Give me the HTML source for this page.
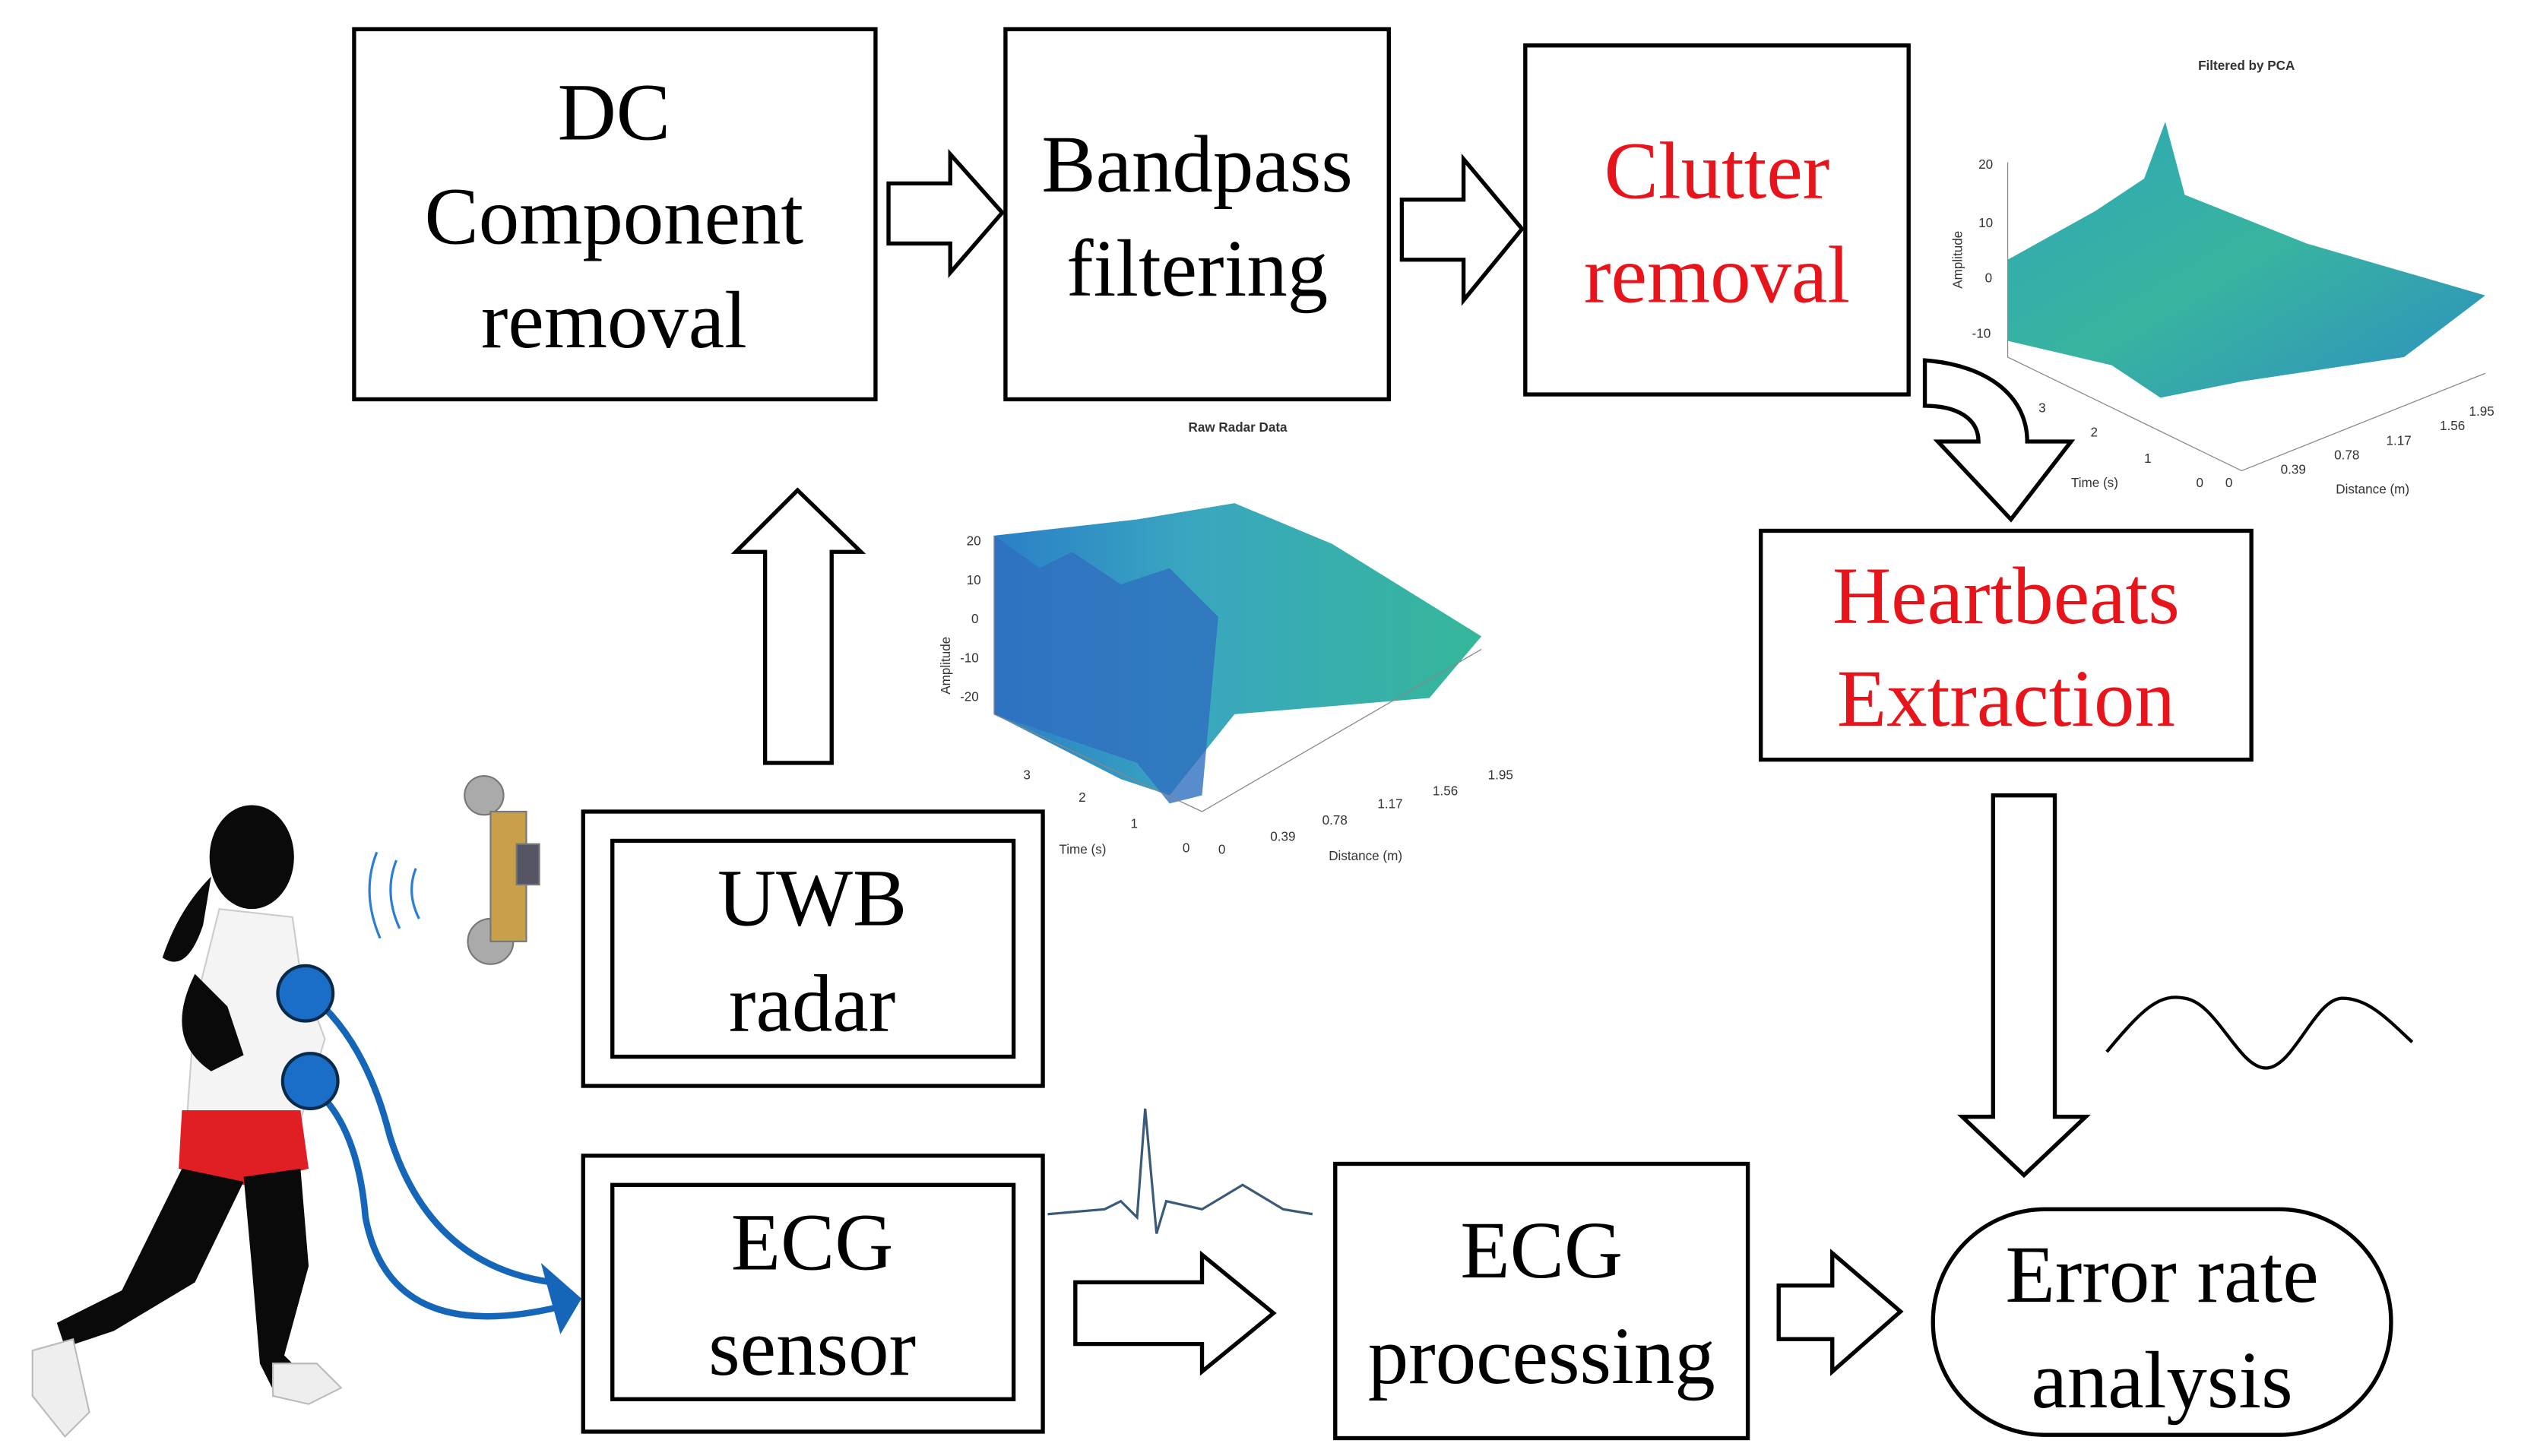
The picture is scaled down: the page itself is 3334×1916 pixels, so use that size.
<!DOCTYPE html>
<html><head><meta charset="utf-8"><style>
html,body{margin:0;padding:0;background:#fff;}
svg{display:block;}
.t{font-family:"Liberation Serif",serif;font-size:50px;text-anchor:middle;}
.r{fill:#e8141b;}
.s{font-family:"Liberation Sans",sans-serif;font-size:8px;fill:#333;}
</style></head><body>
<svg width="3334" height="1916" viewBox="0 0 1560 897" preserveAspectRatio="none" xmlns="http://www.w3.org/2000/svg">
<defs>
<linearGradient id="g1" x1="0" y1="0" x2="1" y2="0">
<stop offset="0" stop-color="#2a7fc7"/><stop offset="0.4" stop-color="#3aa6c0"/><stop offset="1" stop-color="#35b79a"/></linearGradient>
<linearGradient id="g2" x1="0" y1="0" x2="1" y2="1">
<stop offset="0" stop-color="#2fa7b5"/><stop offset="0.5" stop-color="#38b4a0"/><stop offset="1" stop-color="#2d8fc0"/></linearGradient>
</defs>
<g fill="none" stroke="#000" stroke-width="2.5">
<rect x="218" y="18" width="321" height="228"/>
<rect x="619" y="18" width="236" height="228"/>
<rect x="939" y="28" width="236" height="215"/>
<rect x="1084" y="327" width="302" height="141"/>
<rect x="359" y="500" width="283" height="169"/><rect x="377" y="518" width="247" height="133"/>
<rect x="359" y="712" width="283" height="170"/><rect x="377" y="730" width="247" height="132"/>
<rect x="822" y="717" width="254" height="169"/>
<rect x="1190" y="745" width="282" height="139" rx="69"/>
<path d="M547 113H585V95L617 131L585 168V150H547Z"/>
<path d="M863 123H901V98L937 141L901 185V160H863Z"/>
<path d="M662 790H740V773L784 809L740 845V828H662Z"/>
<path d="M1095 792H1128V772L1170 808L1128 845V825H1095Z"/>
<path d="M471 470V340H453L491 302L530 340H512V470Z"/>
<path d="M1227 490H1265V688H1284L1246 724L1208 688H1227Z"/>
<path d="M1185 222C1225 225 1248 245 1248 272H1275L1238 320L1193 272H1218C1218 258 1205 250 1185 250Z"/>
<path d="M1297 648C1320 620 1330 612 1345 615C1365 618 1378 658 1395 658C1412 658 1425 615 1442 615C1458 615 1470 628 1485 642" stroke-width="2"/>
<path d="M645 748L680 745L690 740L700 750L705 683L712 760L718 740L740 745L765 730L790 745L808 748" stroke="#3a5a78" stroke-width="1.5"/>
</g>
<text class="t" x="378" y="86">DC</text>
<text class="t" x="378" y="150">Component</text>
<text class="t" x="378" y="214">removal</text>
<text class="t" x="737" y="118">Bandpass</text>
<text class="t" x="737" y="182">filtering</text>
<text class="t r" x="1057" y="122">Clutter</text>
<text class="t r" x="1057" y="186">removal</text>
<text class="t r" x="1235" y="384">Heartbeats</text>
<text class="t r" x="1235" y="447">Extraction</text>
<text class="t" x="500" y="570">UWB</text>
<text class="t" x="500" y="635">radar</text>
<text class="t" x="500" y="782">ECG</text>
<text class="t" x="500" y="847">sensor</text>
<text class="t" x="949" y="787">ECG</text>
<text class="t" x="949" y="852">processing</text>
<text class="t" x="1331" y="802">Error rate</text>
<text class="t" x="1331" y="867">analysis</text>
<text class="s" x="762" y="266" font-weight="bold" text-anchor="middle">Raw Radar Data</text>
<polygon points="612,330 700,320 760,310 820,335 912,392 880,430 760,440 720,490 690,480 612,440" fill="url(#g1)"/>
<polygon points="612,330 640,350 660,340 690,360 720,350 750,380 740,490 720,495 700,470 612,440" fill="#2f6fbf" opacity="0.8"/>
<g stroke="#888" stroke-width="0.6" fill="none"><path d="M612 330V440L740 500L912 400"/></g>
<g class="s"><text x="595" y="336">20</text><text x="595" y="360">10</text><text x="598" y="384">0</text><text x="591" y="408">-10</text><text x="591" y="432">-20</text>
<text x="630" y="480">3</text><text x="664" y="494">2</text><text x="696" y="510">1</text><text x="728" y="525">0</text><text x="750" y="526">0</text><text x="782" y="518">0.39</text><text x="814" y="508">0.78</text><text x="848" y="498">1.17</text><text x="882" y="490">1.56</text><text x="916" y="480">1.95</text>
<text x="652" y="526">Time (s)</text><text x="818" y="530">Distance (m)</text></g>
<text class="s" x="585" y="410" transform="rotate(-90 585 410)" text-anchor="middle">Amplitude</text>
<text class="s" x="1383" y="43" font-weight="bold" text-anchor="middle">Filtered by PCA</text>
<polygon points="1236,160 1290,130 1320,110 1333,75 1345,120 1420,150 1530,182 1480,220 1380,235 1330,245 1300,225 1236,210" fill="url(#g2)"/>
<g stroke="#888" stroke-width="0.6" fill="none"><path d="M1236 100V220L1380 290L1530 230"/></g>
<g class="s"><text x="1218" y="104">20</text><text x="1218" y="140">10</text><text x="1222" y="174">0</text><text x="1214" y="208">-10</text>
<text x="1255" y="254">3</text><text x="1287" y="269">2</text><text x="1320" y="285">1</text><text x="1352" y="300">0</text><text x="1370" y="300">0</text><text x="1404" y="292">0.39</text><text x="1437" y="283">0.78</text><text x="1469" y="274">1.17</text><text x="1502" y="265">1.56</text><text x="1520" y="256">1.95</text>
<text x="1275" y="300">Time (s)</text><text x="1438" y="304">Distance (m)</text></g>
<text class="s" x="1208" y="160" transform="rotate(-90 1208 160)" text-anchor="middle">Amplitude</text>
<g fill="#aaa" stroke="#777"><circle cx="298" cy="490" r="12"/><circle cx="302" cy="580" r="14"/><rect x="302" y="500" width="22" height="80" fill="#c9a04a"/><rect x="318" y="520" width="14" height="25" fill="#556"/></g>
<g fill="none" stroke="#2a7fd4" stroke-width="1.5"><path d="M232 525Q222 550 234 578"/><path d="M244 530Q236 550 246 572"/><path d="M256 535Q250 550 258 566"/></g>
<g fill="#0a0a0a">
<ellipse cx="155" cy="528" rx="26" ry="32"/>
<path d="M130 540Q110 560 100 590Q115 600 125 570Z"/>
<path d="M135 560L180 565L185 600L200 640L185 690L115 690L120 620Z" fill="#f4f4f4" stroke="#ccc"/>
<path d="M120 600Q100 640 130 660L150 650L140 620Z"/>
<path d="M112 684H185L190 720L150 730L110 720Z" fill="#e01e24"/>
<path d="M150 725L185 720L190 780L175 835L190 850L170 860L160 840L155 780Z"/>
<path d="M112 720L150 728L120 790L70 820L40 830L35 815L75 795Z"/>
<path d="M20 832L45 825L55 870L40 885L20 860Z" fill="#eee" stroke="#bbb"/>
<path d="M168 840L195 840L210 855L190 865L168 860Z" fill="#eee" stroke="#bbb"/>
</g>
<g stroke="#1565b8" stroke-width="4" fill="none"><path d="M190 612Q225 640 240 700Q265 780 340 790"/><path d="M190 668Q220 690 225 750Q240 830 345 805"/></g>
<path d="M333 778L358 800L345 822Z" fill="#1565b8"/>
<g fill="#1a6ec8" stroke="#0a2a4a" stroke-width="2"><circle cx="188" cy="612" r="17"/><circle cx="191" cy="666" r="17"/></g>
</svg>
</body></html>
